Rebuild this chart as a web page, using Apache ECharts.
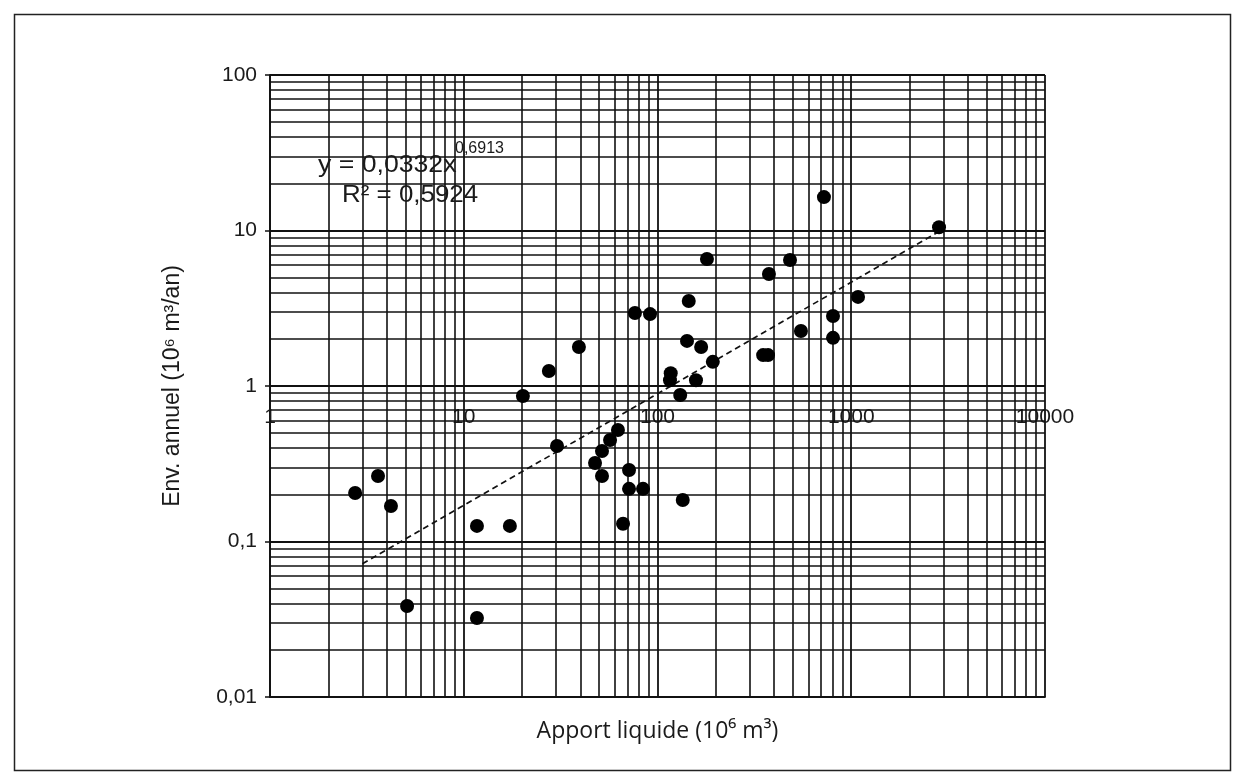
<!DOCTYPE html>
<html><head><meta charset="utf-8">
<script src="https://cdn.jsdelivr.net/npm/echarts@6/dist/echarts.min.js"></script>
<style>html,body{margin:0;padding:0;background:#fff}#c{width:1240px;height:780px}</style>
</head><body><div id="c"></div>
<script>
// Data (log-log scatter)
const apportLiquide = [2.75, 3.61, 4.21, 5.10, 11.7, 11.7, 17.3, 20.2, 27.5, 30.3, 39.3, 47.6, 51.7, 51.7, 56.9, 62.5, 66.4, 71.3, 71.3, 76.5, 84.2, 91.5, 116, 117, 131, 135, 142, 145, 158, 168, 180, 193, 351, 372, 376, 483, 550, 723, 805, 805, 1084, 2838];
const envAnnuel    = [0.205, 0.264, 0.169, 0.0385, 0.126, 0.0322, 0.126, 0.862, 1.25, 0.411, 1.78, 0.320, 0.382, 0.264, 0.450, 0.521, 0.130, 0.288, 0.218, 2.95, 0.218, 2.90, 1.09, 1.21, 0.875, 0.185, 1.95, 3.52, 1.09, 1.78, 6.56, 1.43, 1.58, 1.58, 5.25, 6.46, 2.26, 16.4, 2.82, 2.04, 3.74, 10.5];
const trendX = [3, 2900];
const trendY = [0.072, 10];
const xRange = [1, 10000];
const yRange = [0.01, 100];
const equationText = 'y = 0,0332x';
const equationExp = '0,6913';
const r2Text = 'R² = 0,5924';
const xTitle = 'Apport liquide (10⁶ m³)';
const yTitle = 'Env. annuel (10⁶ m³/an)';

function minorValues(lo, hi) {
  const out = [];
  for (let d = lo; d < hi; d *= 10) {
    for (let m = 2; m <= 9; m++) out.push(+(d * m).toPrecision(6));
  }
  return out;
}

const gridColor = '#111111';
const fmt = v => String(+v.toPrecision(6)).replace('.', ',');

const chart = echarts.init(document.getElementById('c'), null, {renderer: 'canvas'});
chart.setOption({
  backgroundColor: '#ffffff',
  animation: false,
  grid: {left: 270, right: 195, top: 75, bottom: 83, containLabel: false},
  xAxis: [{
    type: 'log', logBase: 10, min: xRange[0], max: xRange[1],
    name: xTitle, nameLocation: 'middle', nameGap: 23,
    nameTextStyle: {fontFamily: 'Open Sans', fontSize: 23, color: '#1a1a1a'},
    axisLine: {show: true, lineStyle: {color: gridColor, width: 1.8}},
    axisTick: {show: false},
    axisLabel: {show: false},
    splitLine: {show: true, lineStyle: {color: gridColor, width: 1.8}},
    minorTick: {show: false}, minorSplitLine: {show: false}
  }, {
    type: 'log', logBase: 10, min: xRange[0], max: xRange[1],
    position: 'bottom', offset: -309,
    axisLine: {show: false}, axisTick: {show: false}, splitLine: {show: false},
    axisLabel: {show: true, margin: 19, fontFamily: 'Liberation Sans', fontSize: 21, color: '#1a1a1a',
      showMinLabel: true, showMaxLabel: true, formatter: fmt}
  }],
  yAxis: {
    type: 'log', logBase: 10, min: yRange[0], max: yRange[1],
    name: yTitle, nameLocation: 'middle', nameGap: 86,
    nameTextStyle: {fontFamily: 'Liberation Sans', fontSize: 23, color: '#1a1a1a'},
    axisLine: {show: true, lineStyle: {color: gridColor, width: 1.8}},
    axisTick: {show: true, length: 5, lineStyle: {color: gridColor, width: 1.5}},
    axisLabel: {margin: 13, fontFamily: 'Liberation Sans', fontSize: 21, color: '#1a1a1a', formatter: fmt},
    splitLine: {show: true, lineStyle: {color: gridColor, width: 1.8}}
  },
  series: [{
    type: 'scatter',
    symbol: 'circle', symbolSize: 14,
    itemStyle: {color: '#000000', opacity: 1},
    data: apportLiquide.map((x, i) => [x, envAnnuel[i]]),
    z: 5,
    markLine: {
      silent: true, symbol: 'none', animation: false,
      label: {show: false},
      lineStyle: {color: gridColor, width: 1.6, type: 'solid', opacity: 1},
      data: minorValues(xRange[0], xRange[1]).map(v => ({xAxis: v}))
        .concat(minorValues(yRange[0], yRange[1]).map(v => ({yAxis: v})))
    }
  }, {
    type: 'line',
    symbol: 'none',
    lineStyle: {color: '#111', width: 1.7, type: [6, 4]},
    data: trendX.map((x, i) => [x, trendY[i]]),
    z: 4
  }],
  graphic: [
    {type: 'rect', left: 12, top: 12, shape: {width: 1216, height: 756},
     style: {fill: 'none', stroke: '#222', lineWidth: 1.5}, silent: true},
    {type: 'text', x: 318, y: 165, z: 10, scaleX: 1.11,
     style: {text: equationText, fontFamily: 'Liberation Sans', fontSize: 24, fill: '#1a1a1a', verticalAlign: 'middle', align: 'left'}},
    {type: 'text', x: 455, y: 149, z: 10,
     style: {text: equationExp, fontFamily: 'Liberation Sans', fontSize: 16, fill: '#1a1a1a', verticalAlign: 'middle', align: 'left'}},
    {type: 'text', x: 342, y: 195, z: 10, scaleX: 1.08,
     style: {text: r2Text, fontFamily: 'Liberation Sans', fontSize: 24, fill: '#1a1a1a', verticalAlign: 'middle', align: 'left'}}
  ]
});
</script></body></html>
